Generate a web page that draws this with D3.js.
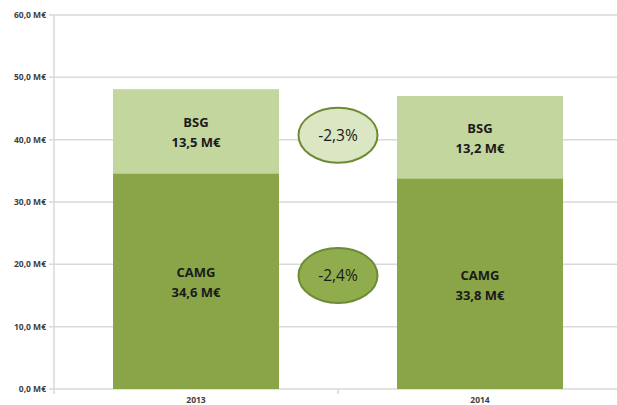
<!DOCTYPE html>
<html>
<head>
<meta charset="utf-8">
<script src="https://cdn.jsdelivr.net/npm/d3@7"></script>
<style>
  body { margin: 0; background: #fff; }
  svg text { font-family: "Open Sans", "DejaVu Sans", sans-serif; }
</style>
</head>
<body>
<svg id="chart" width="617" height="405"></svg>
<script>
// data
var years = ["2013", "2014"];
var camg = [34.6, 33.8];
var bsg = [13.5, 13.2];
var yTicks = [0, 10, 20, 30, 40, 50, 60];
var changes = [
  { key: "bsg", label: "-2,3%" },
  { key: "camg", label: "-2,4%" }
];

var svg = d3.select("#chart");
var fmt = function(v) { return d3.format(".1f")(v).replace(".", ",") + " M€"; };

var x = d3.scaleBand().domain(years).range([54, 622])
  .paddingInner(0.4155).paddingOuter(0.4155 / 2);
var y = d3.scaleLinear().domain([0, 60]).range([389, 15]);

// gridlines
svg.append("g").selectAll("line").data(yTicks).enter().append("line")
  .attr("x1", 49).attr("x2", 622)
  .attr("y1", function(d) { return y(d); }).attr("y2", function(d) { return y(d); })
  .attr("stroke", "#d9d9d9").attr("stroke-width", 1.5);

// y axis line
svg.append("line").attr("x1", 54).attr("x2", 54).attr("y1", y(60)).attr("y2", y(0))
  .attr("stroke", "#d9d9d9").attr("stroke-width", 1.5);

// x ticks
svg.append("g").selectAll("line").data([54, 338, 622]).enter().append("line")
  .attr("x1", function(d) { return d; }).attr("x2", function(d) { return d; })
  .attr("y1", y(0)).attr("y2", y(0) + 5)
  .attr("stroke", "#d9d9d9").attr("stroke-width", 1.5);

// y labels
svg.append("g").selectAll("text").data(yTicks).enter().append("text")
  .attr("x", 46).attr("y", function(d) { return y(d); }).attr("dy", "0.35em")
  .attr("text-anchor", "end").attr("font-size", 8.5).attr("font-weight", "bold")
  .attr("fill", "#404040")
  .text(function(d) { return fmt(d); });

// x labels
svg.append("g").selectAll("text").data(years).enter().append("text")
  .attr("x", function(d) { return x(d) + x.bandwidth() / 2; }).attr("y", 403)
  .attr("text-anchor", "middle").attr("font-size", 8.5).attr("font-weight", "bold")
  .attr("fill", "#404040")
  .text(function(d) { return d; });

var rows = years.map(function(yr, i) { return { year: yr, camg: camg[i], bsg: bsg[i] }; });

// CAMG bars
svg.append("g").selectAll("rect").data(rows).enter().append("rect")
  .attr("x", function(d) { return x(d.year); }).attr("width", x.bandwidth())
  .attr("y", function(d) { return y(d.camg); })
  .attr("height", function(d) { return y(0) - y(d.camg); })
  .attr("fill", "#8aa548");

// BSG bars
svg.append("g").selectAll("rect").data(rows).enter().append("rect")
  .attr("x", function(d) { return x(d.year); }).attr("width", x.bandwidth())
  .attr("y", function(d) { return y(d.camg + d.bsg); })
  .attr("height", function(d) { return y(d.camg) - y(d.camg + d.bsg); })
  .attr("fill", "#c3d69e");

function barLabel(name, key, base) {
  var g = svg.append("g").selectAll("text").data(rows).enter().append("text")
    .attr("text-anchor", "middle").attr("font-size", 13).attr("font-weight", "bold")
    .attr("fill", "#1a1a1a")
    .attr("transform", function(d) {
      var lo = base(d), hi = lo + d[key];
      return "translate(" + (x(d.year) + x.bandwidth() / 2) + "," + ((y(lo) + y(hi)) / 2) + ")";
    });
  g.append("tspan").attr("x", 0).attr("y", -4).text(name);
  g.append("tspan").attr("x", 0).attr("y", 16).text(function(d) { return fmt(d[key]); });
}
barLabel("BSG", "bsg", function(d) { return d.camg; });
barLabel("CAMG", "camg", function(d) { return 0; });

// change ellipses between the bars, centred on each segment's average middle
var midX = (x(years[0]) + x.bandwidth() + x(years[1])) / 2;
var segMid = {
  bsg: d3.mean(rows, function(d) { return (y(d.camg) + y(d.camg + d.bsg)) / 2; }),
  camg: d3.mean(rows, function(d) { return (y(0) + y(d.camg)) / 2; })
};
var fills = { bsg: "#dbe6c2", camg: "#8fad4c" };

var bub = svg.append("g").selectAll("g").data(changes).enter().append("g")
  .attr("transform", function(d) {
    var cy = d.key === "bsg" ? segMid.bsg + 1 : segMid.camg - 7;
    return "translate(" + midX + "," + cy + ")";
  });
bub.append("ellipse").attr("rx", 39.5).attr("ry", 27.5)
  .attr("fill", function(d) { return fills[d.key]; })
  .attr("stroke", "#6f8a35").attr("stroke-width", 2);
bub.append("text").attr("text-anchor", "middle").attr("dy", "0.35em")
  .attr("font-size", 15.5).attr("fill", "#1a1a1a")
  .text(function(d) { return d.label; });
</script>
</body>
</html>
